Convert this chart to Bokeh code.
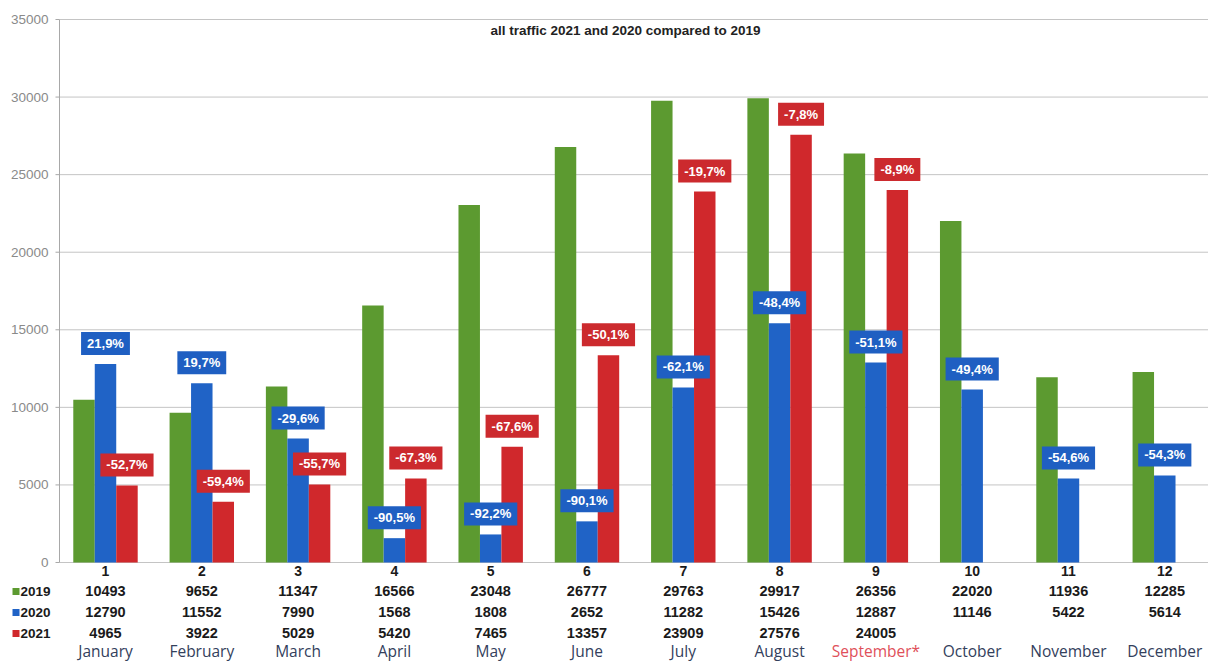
from bokeh.plotting import figure
from bokeh.models import ColumnDataSource, Range1d, Label
from bokeh.core.properties import value
from bokeh.transform import dodge
from bokeh.embed import file_html
from bokeh.resources import INLINE

months = list(range(1, 13))
month_names = ["January", "February", "March", "April", "May", "June", "July",
               "August", "September*", "October", "November", "December"]
month_colors = ["#33405c"] * 8 + ["#e0505a"] + ["#33405c"] * 3
v2019 = [10493, 9652, 11347, 16566, 23048, 26777, 29763, 29917, 26356, 22020, 11936, 12285]
v2020 = [12790, 11552, 7990, 1568, 1808, 2652, 11282, 15426, 12887, 11146, 5422, 5614]
v2021 = [4965, 3922, 5029, 5420, 7465, 13357, 23909, 27576, 24005]
pct2020 = ["21,9%", "19,7%", "-29,6%", "-90,5%", "-92,2%", "-90,1%", "-62,1%",
           "-48,4%", "-51,1%", "-49,4%", "-54,6%", "-54,3%"]
pct2021 = ["-52,7%", "-59,4%", "-55,7%", "-67,3%", "-67,6%", "-50,1%", "-19,7%",
           "-7,8%", "-8,9%"]
years = ["2019", "2020", "2021"]
y_ticks = [0, 5000, 10000, 15000, 20000, 25000, 30000, 35000]
title_text = "all traffic 2021 and 2020 compared to 2019"

GREEN = "#5c9a30"
BLUE = "#2063c6"
RED = "#d0282c"
FONT = value("Liberation Sans")

X0, X1 = -0.0903, 12.454
p = figure(width=1208, height=664, output_backend="svg", toolbar_location=None,
           x_range=Range1d(X0, X1), y_range=Range1d(-6575, 36225),
           x_axis_location=None, y_axis_location=None,
           min_border_left=0, min_border_right=0, min_border_top=0, min_border_bottom=0)
p.outline_line_color = None
p.xgrid.visible = False
p.ygrid.visible = False

# value axis (drawn in the plot area so that the row legend can sit left of it)
AX = 0.5224          # position of the vertical axis line
n = len(y_ticks)
p.segment(x0=[AX] * n, x1=[X1] * n, y0=y_ticks, y1=y_ticks,
          line_color="#c4c4c4", line_width=1)
p.segment(x0=[AX - 0.0416] * n, x1=[AX] * n, y0=y_ticks, y1=y_ticks,
          line_color="#a8a8a8", line_width=1)
p.segment(x0=[AX], x1=[AX], y0=[y_ticks[0]], y1=[y_ticks[-1]],
          line_color="#a8a8a8", line_width=1)
p.text(x=[AX - 0.114] * n, y=y_ticks, text=[str(t) for t in y_ticks],
       text_align="right", text_baseline="middle", text_font=FONT,
       text_font_size="13.5px", text_color="#8a8a8a")

src20 = ColumnDataSource(dict(x=months, v19=v2019, v20=v2020, pct=pct2020))
src21 = ColumnDataSource(dict(x=months[:len(v2021)], v21=v2021, pct=pct2021))

BW = 0.223
p.vbar(x=dodge("x", -BW, range=p.x_range), top="v19", width=BW, source=src20,
       fill_color=GREEN, line_color=None)
p.vbar(x="x", top="v20", width=BW, source=src20, fill_color=BLUE, line_color=None)
p.vbar(x=dodge("x", BW, range=p.x_range), top="v21", width=BW, source=src21,
       fill_color=RED, line_color=None)

PAD = dict(left=6, right=6, top=4, bottom=4)
p.text(x="x", y="v20", text="pct", source=src20, text_align="center",
       text_baseline="bottom", y_offset=-9, text_font=FONT,
       text_font_style="bold", text_font_size="13px", text_color="white",
       background_fill_color="#1f5fc2", padding=PAD)
p.text(x=dodge("x", BW, range=p.x_range), y="v21", text="pct", source=src21,
       text_align="center", text_baseline="bottom", y_offset=-9, text_font=FONT,
       text_font_style="bold", text_font_size="13px", text_color="white",
       background_fill_color="#cc2a2e", padding=PAD)

# title inside the plot area
p.add_layout(Label(x=6.4, y=34292, text=title_text, text_align="center",
                   text_baseline="middle", text_font="Liberation Sans",
                   text_font_style="bold", text_font_size="13.5px",
                   text_color="#222222"))

# data table under the chart
row_y = [-516, -1869, -3223, -4576, -5730]
p.text(x=months, y=row_y[0], text=[str(m) for m in months], text_align="center",
       text_baseline="middle", text_font=FONT, text_font_style="bold",
       text_font_size="14px", text_color="#1a1a1a")
for vals, ry in ((v2019, row_y[1]), (v2020, row_y[2]), (v2021, row_y[3])):
    p.text(x=months[:len(vals)], y=ry, text=[str(v) for v in vals], text_align="center",
           text_baseline="middle", text_font=FONT, text_font_style="bold",
           text_font_size="14.5px", text_color="#1a1a1a")
p.text(x=months, y=row_y[4], text=month_names, text_align="center",
       text_baseline="middle", text_font=value("Open Sans"), text_font_size="15.5px",
       text_color=month_colors)

# legend keys of the table rows
leg = ColumnDataSource(dict(xk=[0.0707] * 3, xt=[0.1174] * 3, y=row_y[1:4], t=years,
                            c=[GREEN, BLUE, RED]))
p.scatter(x="xk", y="y", source=leg, marker="square", size=7, fill_color="c",
          line_color=None)
p.text(x="xt", y="y", text="t", source=leg, text_align="left",
       text_baseline="middle", text_font=FONT, text_font_style="bold",
       text_font_size="13.5px", text_color="#1a1a1a")

open("out.html", "w").write(file_html(p, INLINE))
